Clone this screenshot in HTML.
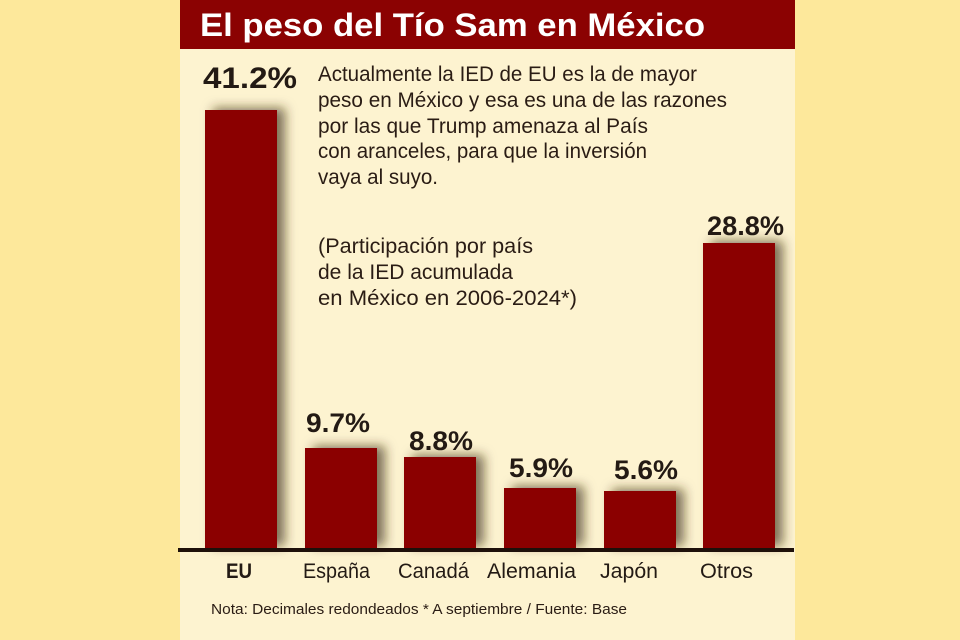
<!DOCTYPE html>
<html><head><meta charset="utf-8"><style>
html,body{margin:0;padding:0;background:#fde89b;}
svg{display:block;}
</style></head><body>
<svg width="960" height="640" viewBox="0 0 960 640" xmlns="http://www.w3.org/2000/svg">
<defs>
<filter id="sh" x="-30%" y="-10%" width="170%" height="120%">
<feDropShadow dx="8" dy="-2" stdDeviation="5.5" flood-color="#3a2a10" flood-opacity="0.65"/>
</filter>
</defs>
<rect x="0" y="0" width="960" height="640" fill="#fde89b"/>
<rect x="180" y="0" width="615" height="640" fill="#fdf3d0"/>
<rect x="180" y="0" width="615" height="49" fill="#8b0202"/>
<text x="200" y="36" font-family="Liberation Sans, sans-serif" font-weight="bold" font-size="32" fill="#ffffff" textLength="505" lengthAdjust="spacingAndGlyphs">El peso del Tío Sam en México</text>

<g font-family="Liberation Sans, sans-serif" font-size="21" fill="#2a1c14">
<text x="318" y="81" textLength="379" lengthAdjust="spacingAndGlyphs">Actualmente la IED de EU es la de mayor</text>
<text x="318" y="107" textLength="409" lengthAdjust="spacingAndGlyphs">peso en México y esa es una de las razones</text>
<text x="318" y="133" textLength="330" lengthAdjust="spacingAndGlyphs">por las que Trump amenaza al País</text>
<text x="318" y="158" textLength="329" lengthAdjust="spacingAndGlyphs">con aranceles, para que la inversión</text>
<text x="318" y="184" textLength="120" lengthAdjust="spacingAndGlyphs">vaya al suyo.</text>
<text x="318" y="253" textLength="215" lengthAdjust="spacingAndGlyphs">(Participación por país</text>
<text x="318" y="279" textLength="195" lengthAdjust="spacingAndGlyphs">de la IED acumulada</text>
<text x="318" y="305" textLength="259" lengthAdjust="spacingAndGlyphs">en México en 2006-2024*)</text>
</g>

<g fill="#8b0000" filter="url(#sh)">
<rect x="205" y="110" width="72" height="438"/>
<rect x="305" y="448" width="72" height="100"/>
<rect x="404" y="457" width="72" height="91"/>
<rect x="504" y="488" width="72" height="60"/>
<rect x="604" y="491" width="72" height="57"/>
<rect x="703" y="243" width="72" height="305"/>
</g>
<rect x="178" y="548" width="616" height="4" fill="#1e100a"/>

<g font-family="Liberation Sans, sans-serif" font-weight="bold" fill="#231a14">
<text x="203" y="88" font-size="30" textLength="94" lengthAdjust="spacingAndGlyphs">41.2%</text>
<text x="306" y="432" font-size="27" textLength="64" lengthAdjust="spacingAndGlyphs">9.7%</text>
<text x="409" y="450" font-size="27" textLength="64" lengthAdjust="spacingAndGlyphs">8.8%</text>
<text x="509" y="477" font-size="27" textLength="64" lengthAdjust="spacingAndGlyphs">5.9%</text>
<text x="614" y="479" font-size="27" textLength="64" lengthAdjust="spacingAndGlyphs">5.6%</text>
<text x="707" y="235" font-size="27" textLength="77" lengthAdjust="spacingAndGlyphs">28.8%</text>
</g>

<g font-family="Liberation Sans, sans-serif" font-size="21" fill="#231a14">
<text x="226" y="578" font-weight="bold" textLength="26" lengthAdjust="spacingAndGlyphs">EU</text>
<text x="303" y="578" textLength="67" lengthAdjust="spacingAndGlyphs">España</text>
<text x="398" y="578" textLength="71" lengthAdjust="spacingAndGlyphs">Canadá</text>
<text x="487" y="578" textLength="89" lengthAdjust="spacingAndGlyphs">Alemania</text>
<text x="600" y="578" textLength="58" lengthAdjust="spacingAndGlyphs">Japón</text>
<text x="700" y="578" textLength="53" lengthAdjust="spacingAndGlyphs">Otros</text>
</g>

<text x="211" y="614" font-family="Liberation Sans, sans-serif" font-size="15" fill="#2a1c14" textLength="416" lengthAdjust="spacingAndGlyphs">Nota: Decimales redondeados * A septiembre / Fuente: Base</text>
</svg>
</body></html>
